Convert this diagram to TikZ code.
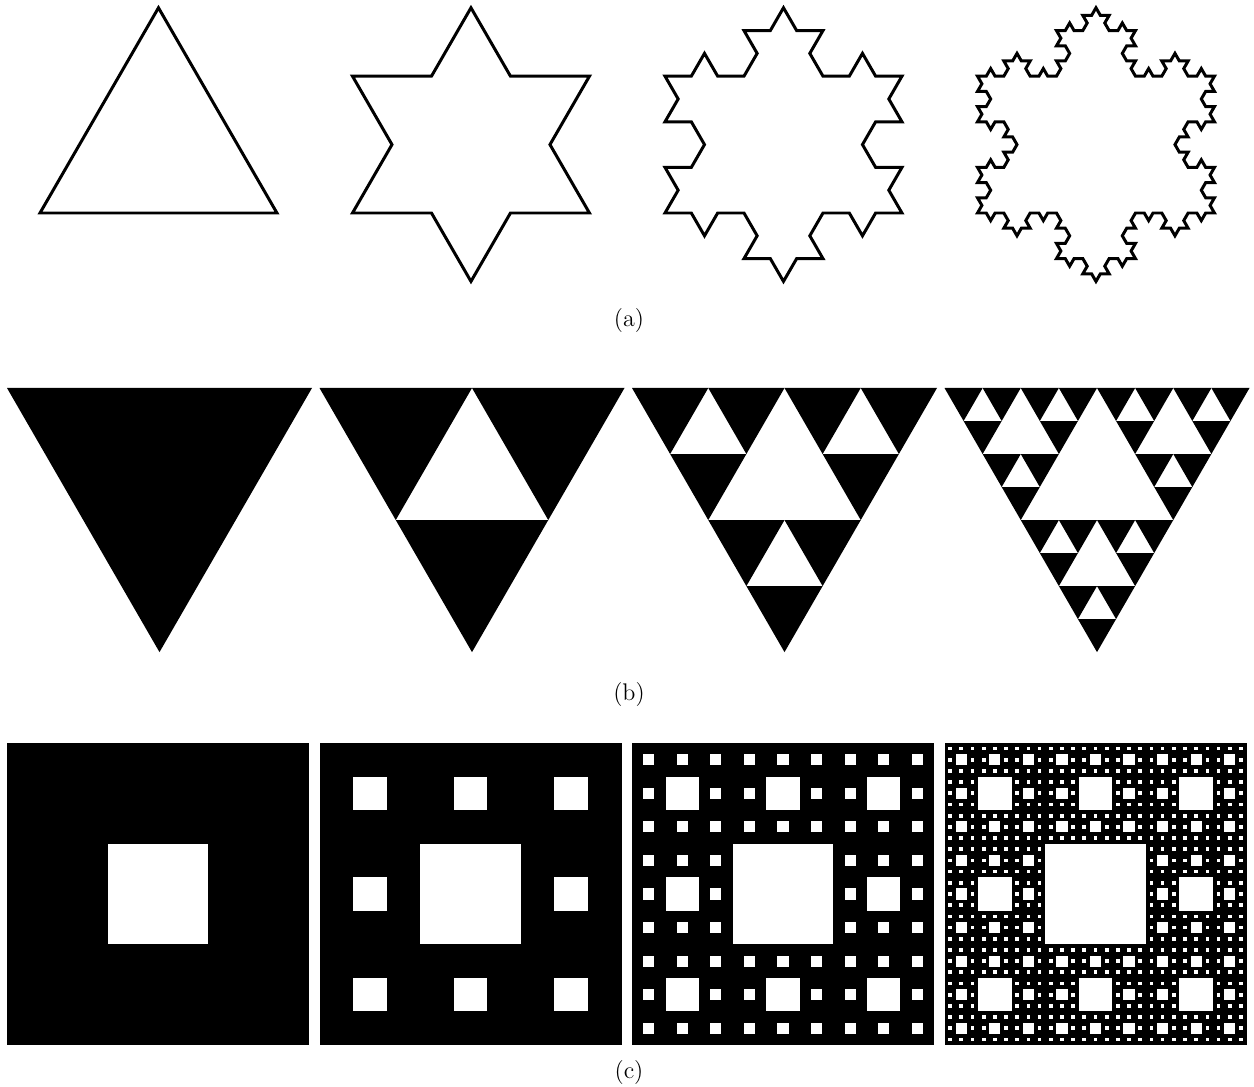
\documentclass[tikz,border=0pt]{standalone}
\usetikzlibrary{lindenmayersystems}

\pgfdeclarelindenmayersystem{Koch curve}{\rule{F -> F-F++F-F}}

% Sierpinski triangle: #1 order, (#2,#3) top left corner, #4 width
\newcommand\sierptri[4]{%
  \ifnum#1=0\relax
    \fill ({#2},{#3}) -- ++({#4},0) -- ++({-0.5*(#4)},{-0.866025*(#4)}) -- cycle;
  \else
    \begingroup
      \pgfmathtruncatemacro\sierplow{#1-1}%
      \pgfmathsetmacro\sierphalf{(#4)/2}%
      \pgfmathsetmacro\sierpxm{#2+\sierphalf}%
      \pgfmathsetmacro\sierpxq{#2+\sierphalf/2}%
      \pgfmathsetmacro\sierpyq{#3-0.866025*\sierphalf}%
      \edef\sierpnext{%
        \noexpand\sierptri{\sierplow}{#2}{#3}{\sierphalf}%
        \noexpand\sierptri{\sierplow}{\sierpxm}{#3}{\sierphalf}%
        \noexpand\sierptri{\sierplow}{\sierpxq}{\sierpyq}{\sierphalf}}%
      \sierpnext
    \endgroup
  \fi}

\begin{document}
\begin{tikzpicture}[x=0.02cm, y=0.02cm,
    koch line/.style={line width=1.7pt},
    caption/.style={font=\fontsize{13.7}{16}\selectfont}]
    \useasboundingbox (0,0) rectangle (1254,1086);

    % Koch snowflake
    \foreach \n/\len in {0/4.74,1/1.58,2/0.52667,3/0.175556}
        \draw[koch line, shift={({40+312.5*\n},873)},
              l-system={Koch curve, axiom=F++F++F, order=\n, step=\len cm, angle=60}]
            (0,0) lindenmayer system -- cycle;
    \node[caption] (cap a) at (629,766) {(a)};

    % Sierpinski triangle
    \foreach \n in {0,...,3} {
        \pgfmathsetmacro\sx{7+312.5*\n}
        \sierptri{\n}{\sx}{698}{305}
    }
    \node[caption] (cap b) at (629,392) {(b)};

    % Sierpinski carpet
    \foreach \n in {1,...,4} {
        \pgfmathsetmacro\cx{7+312.5*(\n-1)}
        \fill (\cx,41) rectangle ++(302,302);
        \foreach \lev in {1,...,\n} {
            \pgfmathsetmacro\cell{302/3^\lev}
            \pgfmathtruncatemacro\last{3^(\lev-1)-1}
            \foreach \i in {0,...,\last}
                \foreach \j in {0,...,\last}
                    \fill[white] ({\cx+(3*\i+1)*\cell},{41+(3*\j+1)*\cell}) rectangle ++(\cell,\cell);
        }
    }
    \node[caption] (cap c) at (629,14) {(c)};

\end{tikzpicture}
\end{document}
